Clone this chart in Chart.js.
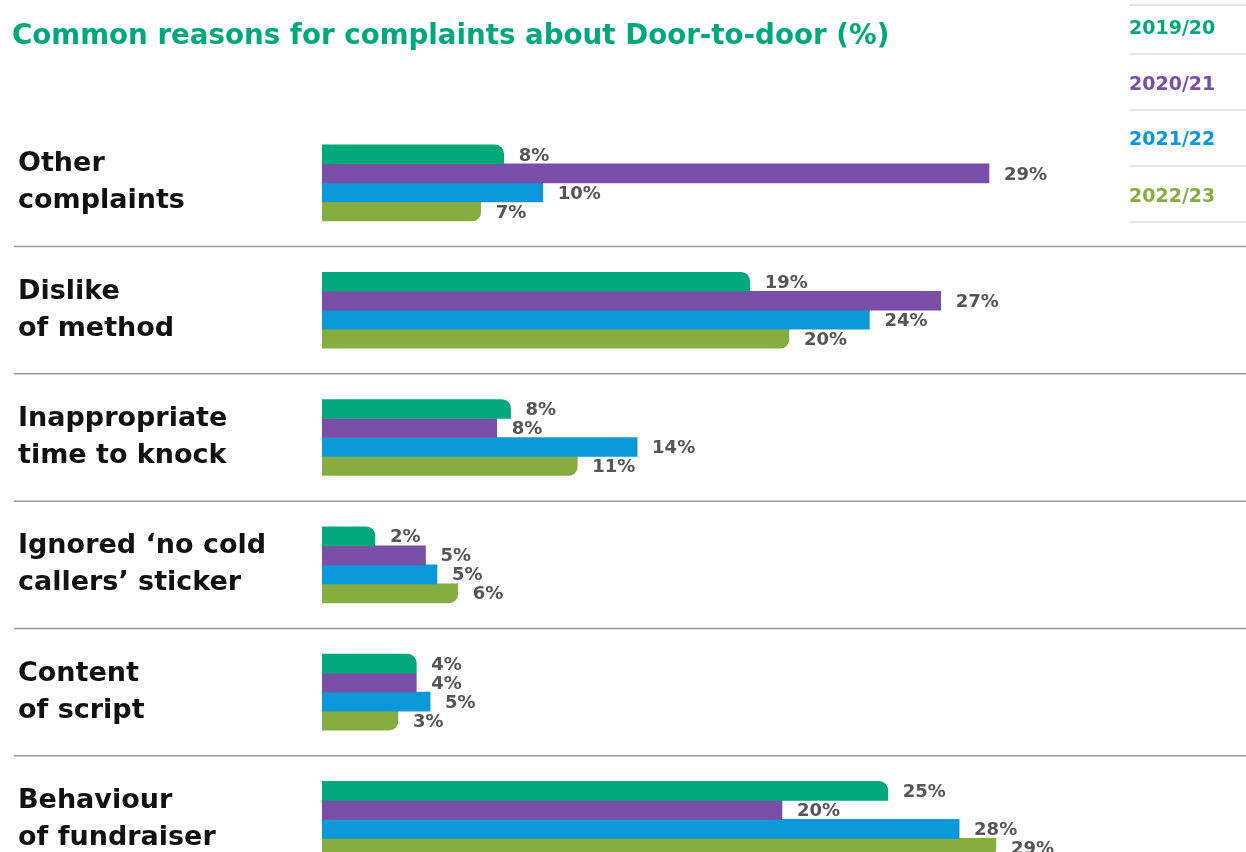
<!DOCTYPE html>
<html>
<head>
<meta charset="utf-8">
<script src="https://cdn.jsdelivr.net/npm/chart.js@4.4.1/dist/chart.umd.min.js"></script>
<style>
  html, body { margin: 0; padding: 0; background: #fff; overflow: hidden; }
  #c { display: block; }
</style>
</head>
<body>
<canvas id="c" width="1246" height="920"></canvas>
<script>
const titleText = 'Common reasons for complaints about Door-to-door (%)';
const categories = [
  ['Other', 'complaints'],
  ['Dislike', 'of method'],
  ['Inappropriate', 'time to knock'],
  ['Ignored \u2018no cold', 'callers\u2019 sticker'],
  ['Content', 'of script'],
  ['Behaviour', 'of fundraiser']
];
const seriesNames = ['2019/20', '2020/21', '2021/22', '2022/23'];
const values2019 = [7.9, 18.6, 8.2, 2.3, 4.1, 24.6];
const values2020 = [29.0, 26.9, 7.6, 4.5, 4.1, 20.0];
const values2021 = [9.6, 23.8, 13.7, 5.0, 4.7, 27.7];
const values2022 = [6.9, 20.3, 11.1, 5.9, 3.3, 29.3];
const seriesColors = ['#00A87B', '#784EA6', '#0A98D8', '#86AD3F'];

const FONT = '"DejaVu Sans", sans-serif';

const decorPlugin = {
  id: 'decor',
  beforeDatasetsDraw(chart) {
    const ctx = chart.ctx;
    const y = chart.scales.y;
    ctx.save();
    ctx.strokeStyle = '#9a9a9a';
    ctx.lineWidth = 1.5;
    for (let i = 0; i < categories.length - 1; i++) {
      const yy = (y.getPixelForValue(i) + y.getPixelForValue(i + 1)) / 2;
      ctx.beginPath();
      ctx.moveTo(14, yy);
      ctx.lineTo(chart.width, yy);
      ctx.stroke();
    }
    ctx.restore();
  },
  afterDatasetsDraw(chart) {
    const ctx = chart.ctx;
    ctx.save();
    // value labels
    ctx.font = 'bold 18px ' + FONT;
    ctx.fillStyle = '#555555';
    ctx.textAlign = 'left';
    ctx.textBaseline = 'middle';
    chart.data.datasets.forEach((ds, di) => {
      const meta = chart.getDatasetMeta(di);
      meta.data.forEach((bar, i) => {
        ctx.fillText(Math.round(ds.data[i]) + '%', bar.x + 15, bar.y + 1.5);
      });
    });
    // title
    ctx.font = 'bold 27.7px ' + FONT;
    ctx.fillStyle = seriesColors[0];
    ctx.textBaseline = 'alphabetic';
    ctx.fillText(titleText, 12, 44);
    // legend
    const lx = 1129;
    const lineYs = [5, 54, 110, 166, 222];
    const textYs = [29, 85, 140.5, 196.7];
    ctx.strokeStyle = '#cccccc';
    ctx.lineWidth = 1;
    lineYs.forEach(ly => {
      ctx.beginPath();
      ctx.moveTo(lx, ly);
      ctx.lineTo(chart.width, ly);
      ctx.stroke();
    });
    ctx.font = 'bold 19px ' + FONT;
    ctx.textBaseline = 'middle';
    chart.data.datasets.forEach((ds, di) => {
      ctx.fillStyle = ds.backgroundColor;
      ctx.fillText(ds.label, lx, textYs[di]);
    });
    ctx.restore();
  }
};

const allValues = [values2019, values2020, values2021, values2022];
const datasets = seriesNames.map((name, i) => ({
  label: name,
  data: allValues[i],
  backgroundColor: seriesColors[i],
  borderWidth: 0,
  barThickness: 19,
  borderRadius: i === 0 ? { topRight: 9 } : (i === 3 ? { bottomRight: 9 } : 0),
  borderSkipped: 'start'
}));

new Chart(document.getElementById('c'), {
  type: 'bar',
  data: { labels: categories, datasets },
  options: {
    indexAxis: 'y',
    responsive: false,
    animation: false,
    layout: { padding: { top: 119.3, right: 119, bottom: 0, left: 18 } },
    plugins: {
      legend: { display: false },
      title: { display: false },
      tooltip: { enabled: false }
    },
    scales: {
      x: { display: false, min: 0, max: 35 },
      y: {
        grid: { display: false },
        border: { display: false },
        ticks: {
          crossAlign: 'far',
          padding: 0,
          color: '#111111',
          font: { family: FONT, weight: 'bold', size: 27, lineHeight: 1.37 }
        },
        afterFit(scale) { scale.width = 304; }
      }
    }
  },
  plugins: [decorPlugin]
});
</script>
</body>
</html>
